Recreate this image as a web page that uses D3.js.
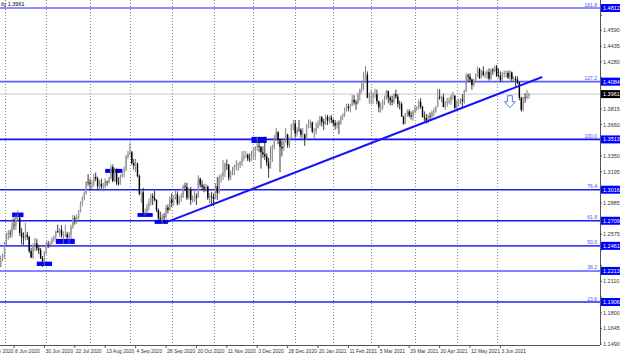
<!DOCTYPE html>
<html><head><meta charset="utf-8">
<script src="https://cdn.jsdelivr.net/npm/d3@7"></script>
<style>
html,body{margin:0;padding:0;background:#fff;}
svg{display:block;font-family:"Liberation Sans",Arial,sans-serif;}
</style></head>
<body>
<svg id="chart" width="620" height="357"></svg>
<script>
// ---------------- DATA ----------------
const symbolText = "ily 1.3961";
const firstBarDate = "2020-05-28";          // first visible daily bar
const holidays = ["2020-12-25", "2021-01-01"];
const firstOpen = 1.2255;
// daily closes (GBPUSD, 28 May 2020 -> 24 Jun 2021)
const closes = [
1.2325,1.2345,1.2490,1.2565,1.2585,1.2580,1.2670,1.2665,1.2738,1.2740,
1.2590,1.2545,1.2540,1.2570,1.2550,1.2410,1.2345,1.2470,1.2485,1.2435,
1.2420,1.2335,1.2310,1.2400,1.2475,1.2470,1.2480,1.2530,1.2550,1.2605,
1.2595,1.2620,1.2563,1.2570,1.2573,1.2545,1.2575,1.2645,1.2735,1.2727,
1.2735,1.2795,1.2880,1.2940,1.2985,1.3090,1.3085,1.3075,1.3075,1.3140,
1.3125,1.3050,1.3075,1.3045,1.3045,1.3095,1.3090,1.3125,1.3240,1.3100,
1.3220,1.3085,1.3075,1.3145,1.3190,1.3215,1.3345,1.3370,1.3385,1.3280,
1.3255,1.3275,1.3150,1.2975,1.2990,1.2790,1.2795,1.2850,1.2890,1.2950,
1.2935,1.2915,1.2815,1.2735,1.2725,1.2750,1.2745,1.2840,1.2815,1.2920,
1.2885,1.2945,1.2970,1.2880,1.2935,1.2940,1.3050,1.3045,1.2935,1.3015,
1.2915,1.2915,1.2950,1.2940,1.3125,1.3065,1.3045,1.3025,1.3045,1.2935,
1.2950,1.2945,1.2925,1.3050,1.2985,1.3145,1.3150,1.3190,1.3270,1.3265,
1.3135,1.3190,1.3190,1.3250,1.3255,1.3265,1.3285,1.3330,1.3350,1.3360,
1.3320,1.3315,1.3340,1.3410,1.3440,1.3450,1.3440,1.3385,1.3365,1.3345,
1.3285,1.3225,1.3310,1.3445,1.3515,1.3585,1.3515,1.3440,1.3425,1.3490,
1.3560,1.3455,1.3525,1.3660,1.3670,1.3570,1.3610,1.3605,1.3560,1.3565,
1.3515,1.3640,1.3665,1.3680,1.3590,1.3595,1.3630,1.3660,1.3730,1.3685,
1.3670,1.3735,1.3700,1.3730,1.3705,1.3675,1.3650,1.3670,1.3665,1.3735,
1.3760,1.3815,1.3835,1.3825,1.3845,1.3905,1.3880,1.3870,1.3960,1.4010,
1.4065,1.4090,1.4155,1.3925,1.3925,1.3935,1.3955,1.3960,1.3890,1.3830,
1.3830,1.3885,1.3920,1.3990,1.3925,1.3900,1.3885,1.3960,1.3935,1.3865,
1.3860,1.3740,1.3665,1.3765,1.3790,1.3750,1.3740,1.3785,1.3820,1.3830,
1.3885,1.3835,1.3735,1.3725,1.3700,1.3745,1.3740,1.3780,1.3790,1.3835,
1.3935,1.3925,1.3930,1.3835,1.3870,1.3880,1.3895,1.3945,1.3945,1.3825,
1.3870,1.3895,1.3905,1.3890,1.3990,1.4145,1.4135,1.4105,1.4050,1.4095,
1.4150,1.4210,1.4120,1.4185,1.4150,1.4150,1.4180,1.4115,1.4200,1.4190,
1.4225,1.4145,1.4140,1.4100,1.4160,1.4165,1.4170,1.4125,1.4175,1.4110,
1.4115,1.4100,1.4080,1.3925,1.3805,1.3930,1.3925,1.3945,1.3961
];
const highs = [
1.2365,1.2385,1.2500,1.2590,1.2615,1.2620,1.2730,1.2740,1.2765,1.2812,
1.2745,1.2635,1.2595,1.2690,1.2600,1.2560,1.2440,1.2485,1.2540,1.2530,
1.2470,1.2440,1.2360,1.2410,1.2500,1.2510,1.2505,1.2545,1.2565,1.2610,
1.2670,1.2635,1.2665,1.2605,1.2670,1.2600,1.2595,1.2670,1.2768,1.2760,
1.2770,1.2815,1.2900,1.2950,1.3000,1.3100,1.3170,1.3125,1.3110,1.3175,
1.3185,1.3145,1.3110,1.3125,1.3085,1.3130,1.3105,1.3145,1.3265,1.3265,
1.3235,1.3225,1.3140,1.3165,1.3215,1.3245,1.3360,1.3400,1.3482,1.3400,
1.3320,1.3320,1.3285,1.3165,1.3005,1.3035,1.2830,1.2875,1.2930,1.2980,
1.2980,1.3005,1.2920,1.2830,1.2800,1.2775,1.2785,1.2865,1.2870,1.2950,
1.2980,1.2960,1.3005,1.3000,1.2955,1.2980,1.3065,1.3085,1.3085,1.3035,
1.3045,1.2960,1.3010,1.2980,1.3160,1.3135,1.3110,1.3070,1.3075,1.3060,
1.2980,1.2995,1.2980,1.3080,1.3140,1.3160,1.3175,1.3310,1.3285,1.3315,
1.3265,1.3205,1.3240,1.3265,1.3310,1.3285,1.3300,1.3395,1.3400,1.3400,
1.3375,1.3375,1.3400,1.3440,1.3445,1.3540,1.3520,1.3445,1.3445,1.3540,
1.3375,1.3330,1.3445,1.3460,1.3555,1.3625,1.3595,1.3490,1.3500,1.3525,
1.3625,1.3570,1.3535,1.3670,1.3705,1.3705,1.3635,1.3705,1.3625,1.3625,
1.3570,1.3665,1.3710,1.3710,1.3690,1.3625,1.3680,1.3700,1.3745,1.3745,
1.3715,1.3760,1.3755,1.3745,1.3755,1.3720,1.3705,1.3690,1.3700,1.3750,
1.3770,1.3830,1.3865,1.3865,1.3865,1.3955,1.3950,1.3905,1.3975,1.4015,
1.4080,1.4180,1.4241,1.4185,1.3975,1.4005,1.3980,1.4015,1.4005,1.3895,
1.3875,1.3905,1.3945,1.4005,1.3995,1.3945,1.3945,1.3970,1.4005,1.3960,
1.3895,1.3880,1.3745,1.3775,1.3810,1.3810,1.3790,1.3805,1.3850,1.3845,
1.3905,1.3920,1.3845,1.3790,1.3765,1.3760,1.3780,1.3800,1.3825,1.3845,
1.4010,1.4010,1.3945,1.3965,1.3895,1.3925,1.3930,1.3955,1.3985,1.3950,
1.3900,1.3915,1.3920,1.3960,1.4005,1.4165,1.4165,1.4165,1.4115,1.4110,
1.4165,1.4235,1.4220,1.4200,1.4235,1.4185,1.4200,1.4215,1.4215,1.4220,
1.4245,1.4250,1.4215,1.4185,1.4180,1.4195,1.4195,1.4190,1.4200,1.4185,
1.4135,1.4140,1.4135,1.4075,1.3935,1.3935,1.3970,1.4000,1.3975
];
const lows = [
1.2250,1.2310,1.2335,1.2470,1.2520,1.2540,1.2545,1.2620,1.2620,1.2700,
1.2560,1.2475,1.2470,1.2515,1.2520,1.2390,1.2340,1.2335,1.2410,1.2410,
1.2380,1.2330,1.2252,1.2265,1.2375,1.2440,1.2445,1.2475,1.2500,1.2525,
1.2590,1.2550,1.2540,1.2480,1.2550,1.2520,1.2480,1.2530,1.2630,1.2670,
1.2680,1.2720,1.2790,1.2855,1.2910,1.2965,1.3055,1.3005,1.3020,1.3045,
1.3100,1.3010,1.3020,1.3025,1.3000,1.3030,1.3055,1.3075,1.3120,1.3090,
1.3095,1.3060,1.3055,1.3065,1.3135,1.3140,1.3200,1.3320,1.3355,1.3260,
1.3215,1.3190,1.3140,1.2960,1.2885,1.2765,1.2760,1.2780,1.2810,1.2860,
1.2865,1.2900,1.2795,1.2715,1.2690,1.2675,1.2700,1.2730,1.2780,1.2805,
1.2845,1.2860,1.2920,1.2860,1.2865,1.2895,1.2935,1.3000,1.2915,1.2920,
1.2865,1.2890,1.2895,1.2865,1.2935,1.3035,1.3010,1.2990,1.2995,1.2915,
1.2880,1.2855,1.2855,1.2920,1.2915,1.2975,1.3085,1.3110,1.3140,1.3210,
1.3105,1.3110,1.3160,1.3160,1.3210,1.3200,1.3230,1.3250,1.3300,1.3330,
1.3300,1.3290,1.3300,1.3320,1.3310,1.3400,1.3390,1.3225,1.3330,1.3310,
1.3250,1.3135,1.3280,1.3290,1.3415,1.3500,1.3465,1.3190,1.3345,1.3400,
1.3480,1.3430,1.3430,1.3510,1.3605,1.3530,1.3540,1.3585,1.3530,1.3500,
1.3450,1.3505,1.3620,1.3625,1.3575,1.3520,1.3560,1.3620,1.3650,1.3640,
1.3605,1.3655,1.3655,1.3670,1.3675,1.3645,1.3610,1.3620,1.3565,1.3660,
1.3705,1.3735,1.3790,1.3790,1.3780,1.3840,1.3855,1.3805,1.3860,1.3895,
1.3975,1.4000,1.4075,1.3920,1.3865,1.3860,1.3865,1.3920,1.3860,1.3780,
1.3780,1.3805,1.3855,1.3905,1.3870,1.3850,1.3850,1.3865,1.3915,1.3830,
1.3810,1.3735,1.3660,1.3670,1.3735,1.3730,1.3710,1.3700,1.3770,1.3795,
1.3810,1.3815,1.3730,1.3690,1.3670,1.3670,1.3700,1.3725,1.3745,1.3775,
1.3835,1.3905,1.3880,1.3830,1.3805,1.3835,1.3860,1.3855,1.3905,1.3810,
1.3800,1.3840,1.3860,1.3830,1.3865,1.3980,1.4080,1.4080,1.4005,1.4035,
1.4075,1.4130,1.4110,1.4115,1.4135,1.4120,1.4110,1.4095,1.4100,1.4150,
1.4175,1.4130,1.4125,1.4080,1.4080,1.4125,1.4125,1.4110,1.4095,1.4085,
1.4080,1.4040,1.4060,1.3900,1.3787,1.3790,1.3875,1.3905,1.3915
];
// Fibonacci levels
const fibLabels = ["161.8","127.2","100.0","76.4","61.8","50.0","38.2","23.6"];
const fibPrices = [1.4812,1.4084,1.3513,1.3016,1.2709,1.2461,1.2213,1.1906];
const fibColors = ["#6a6aff","#5c5cff","#1010f0","#2020f0","#1818f0","#4040ff","#5a5aff","#2424f0"];
// price-axis tick labels
const yTickLabels = ["1.1490","1.1645","1.1800","1.1955","1.2110","1.2265","1.2420","1.2575","1.2730","1.2885",
  "1.3040","1.3195","1.3350","1.3505","1.3660","1.3815","1.3970","1.4125","1.4280","1.4435","1.4590","1.4740"];
const currentPrice = 1.3961;
// date-axis labels (one every 16 bars)
const dateLabels = ["15 May 2020","8 Jun 2020","30 Jun 2020","22 Jul 2020","13 Aug 2020","4 Sep 2020","28 Sep 2020",
  "20 Oct 2020","11 Nov 2020","3 Dec 2020","28 Dec 2020","20 Jan 2021","11 Feb 2021","5 Mar 2021","29 Mar 2021",
  "20 Apr 2021","12 May 2021","3 Jun 2021"];
const dateLabelBars = [-9,7,23,39,55,71,87,103,119,135,151,167,183,199,215,231,247,263]; // bar offsets from firstBarDate
// rectangles: [startBar, endBar, priceTop, priceBottom]
const rects = [
  [6,12,1.2790,1.2745],[19,27,1.2305,1.2262],[29,39,1.2530,1.2480],[55,64,1.3222,1.3182],
  [72,80,1.2786,1.2747],[81,88,1.2718,1.2678],[132,140,1.3538,1.3478]
];
// trend line: [bar, price]
const trendStart = [88, 1.2700];
const trendEnd = [285, 1.4130];
const arrowAnchor = [268, 1.3945];

// ---------------- DRAW ----------------
const svg = d3.select("#chart");
const W = 620, H = 357, plotRight = 600, plotBottom = 345;

// trading dates
const hol = new Set(holidays);
const fmt = d3.timeFormat("%Y-%m-%d");
const start = d3.timeParse("%Y-%m-%d")(firstBarDate);
const dates = [];
let d = start;
while (dates.length < closes.length) {
  const wd = d.getDay();
  if (wd !== 0 && wd !== 6 && !hol.has(fmt(d))) dates.push(d);
  d = d3.timeDay.offset(d, 1);
}
const bars = closes.map((c, i) => ({
  i, date: dates[i], close: c, high: highs[i], low: lows[i],
  open: i === 0 ? firstOpen : closes[i - 1]
}));

const x = d3.scaleLinear().domain([0, 100]).range([0.7, 190.7]);
const y = d3.scaleLinear().domain([1.1906, 1.4812]).range([302, 8]);

// month gridlines
const monthStarts = bars.filter((b, i) => i > 0 && b.date.getMonth() !== bars[i - 1].date.getMonth());
svg.append("g").selectAll("line").data(monthStarts).join("line")
  .attr("x1", b => Math.round(x(b.i)) + 0.5).attr("x2", b => Math.round(x(b.i)) + 0.5)
  .attr("y1", 0).attr("y2", plotBottom)
  .attr("stroke", "#8a8a8a").attr("stroke-width", 1).attr("stroke-dasharray", "1,2");

// current price line
svg.append("line").attr("x1", 0).attr("x2", plotRight)
  .attr("y1", y(currentPrice)).attr("y2", y(currentPrice))
  .attr("stroke", "#c8c8c8").attr("stroke-width", 1);

// fib lines
svg.append("g").selectAll("line").data(fibPrices).join("line")
  .attr("x1", 0).attr("x2", plotRight)
  .attr("y1", p => y(p)).attr("y2", p => y(p))
  .attr("stroke", (p, i) => fibColors[i]).attr("stroke-width", 1.6);
svg.append("g").selectAll("text").data(fibLabels).join("text")
  .attr("x", 597).attr("y", (t, i) => y(fibPrices[i]) - 1.5)
  .attr("text-anchor", "end").attr("font-size", 5).attr("fill", "#4a4aff").text(t => t);

// rectangles
svg.append("g").selectAll("rect").data(rects).join("rect")
  .attr("x", r => x(r[0])).attr("width", r => x(r[1]) - x(r[0]))
  .attr("y", r => y(r[2])).attr("height", r => y(r[3]) - y(r[2]))
  .attr("fill", "#0000ff");

// candles
const cg = svg.append("g");
cg.selectAll("line").data(bars).join("line")
  .attr("x1", b => x(b.i)).attr("x2", b => x(b.i))
  .attr("y1", b => y(b.high)).attr("y2", b => y(b.low))
  .attr("stroke", b => b.close >= b.open ? "#777" : "#222").attr("stroke-width", 0.9);
cg.selectAll("rect").data(bars).join("rect")
  .attr("x", b => x(b.i) - 0.7).attr("width", 1.4)
  .attr("y", b => y(Math.max(b.open, b.close)))
  .attr("height", b => Math.max(0.6, Math.abs(y(b.open) - y(b.close))))
  .attr("fill", b => b.close >= b.open ? "#9a9a9a" : "#000");

// trend line
svg.append("line")
  .attr("x1", x(trendStart[0])).attr("y1", y(trendStart[1]))
  .attr("x2", x(trendEnd[0])).attr("y2", y(trendEnd[1]))
  .attr("stroke", "#1414ff").attr("stroke-width", 2);

// arrow (hollow down arrow)
const ax = x(arrowAnchor[0]), ay = y(arrowAnchor[1]);
svg.append("path")
  .attr("d", `M${ax-2.5},${ay} h5 v6 h3 l-5.5,6 l-5.5,-6 h3 z`)
  .attr("fill", "#fff").attr("stroke", "#5a78e8").attr("stroke-width", 1);

// axes frame
svg.append("line").attr("x1", plotRight + 0.5).attr("x2", plotRight + 0.5).attr("y1", 0).attr("y2", plotBottom)
  .attr("stroke", "#555").attr("stroke-width", 1);
svg.append("line").attr("x1", 0).attr("x2", plotRight).attr("y1", plotBottom + 0.5).attr("y2", plotBottom + 0.5)
  .attr("stroke", "#555").attr("stroke-width", 1);

// price axis ticks (labels hidden where a highlighted label sits on top)
const taken = fibPrices.concat([currentPrice]).map(p => y(p));
const yt = svg.append("g");
yTickLabels.forEach(t => {
  const v = +t, yy = y(v);
  yt.append("line").attr("x1", plotRight).attr("x2", plotRight + 2).attr("y1", yy).attr("y2", yy).attr("stroke", "#555");
  if (taken.some(ty => Math.abs(ty - yy) < 7.5)) return;
  yt.append("text").attr("x", 603).attr("y", yy + 2).attr("font-size", 5.5).attr("fill", "#333").text(t);
});
// highlighted fib price labels
fibPrices.forEach(p => {
  const yy = y(p);
  svg.append("rect").attr("x", 601).attr("y", yy - 4).attr("width", 19).attr("height", 8).attr("fill", "#0000ff");
  svg.append("text").attr("x", 603).attr("y", yy + 2).attr("font-size", 5.5).attr("fill", "#fff").text(p.toFixed(4));
});
// current price label
svg.append("rect").attr("x", 601).attr("y", y(currentPrice) - 4).attr("width", 19).attr("height", 8).attr("fill", "#000");
svg.append("text").attr("x", 603).attr("y", y(currentPrice) + 2).attr("font-size", 5.5).attr("fill", "#fff").text(currentPrice.toFixed(4));

// date axis
const xt = svg.append("g");
dateLabels.forEach((t, k) => {
  const xx = x(dateLabelBars[k]);
  xt.append("line").attr("x1", xx).attr("x2", xx).attr("y1", plotBottom).attr("y2", plotBottom + 3).attr("stroke", "#555");
  xt.append("text").attr("x", xx + 1).attr("y", 353).attr("font-size", 5).attr("fill", "#333").text(t);
});

// header text
svg.append("text").attr("x", 1).attr("y", 6).attr("font-size", 5.5).attr("fill", "#000").text(symbolText);
</script>
</body></html>
